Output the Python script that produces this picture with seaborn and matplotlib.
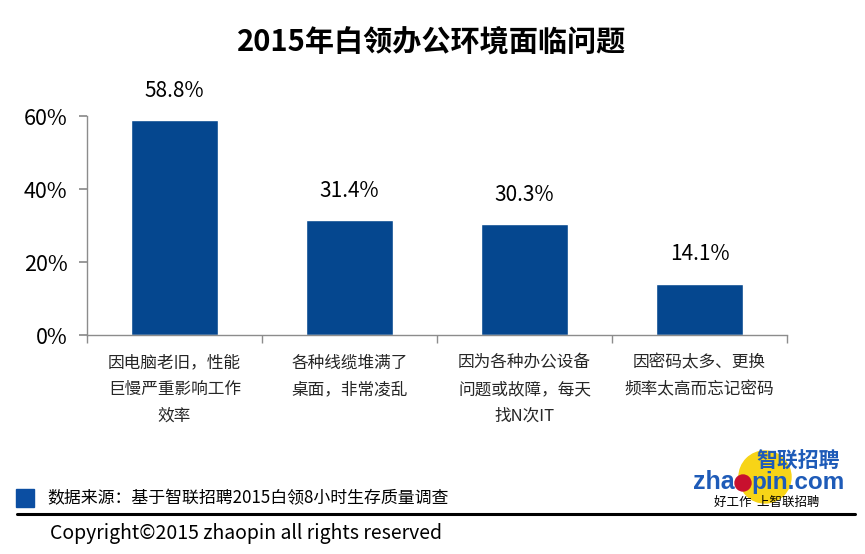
import matplotlib
matplotlib.use("Agg")
import matplotlib.pyplot as plt
import seaborn as sns
import pandas as pd
from matplotlib.patches import Rectangle, Ellipse
from matplotlib.ticker import FixedLocator

categories = [
    "因电脑老旧，性能\n巨慢严重影响工作\n效率",
    "各种线缆堆满了\n桌面，非常凌乱",
    "因为各种办公设备\n问题或故障，每天\n找N次IT",
    "因密码太多、更换\n频率太高而忘记密码",
]
values = [58.8, 31.4, 30.3, 14.1]
y_ticks = [0, 20, 40, 60]
title = "2015年白领办公环境面临问题"
source_text = "数据来源：基于智联招聘2015白领8小时生存质量调查"
copyright_text = "Copyright©2015 zhaopin all rights reserved"

sns.set_theme(style="white")
plt.rcParams["font.family"] = ["Noto Sans CJK SC", "DejaVu Sans"]

BLUE = "#05478F"
GRAY = "#8C8C8C"
LOGO_BLUE = "#1E5BB8"

df = pd.DataFrame({"cat": categories, "val": values})

fig = plt.figure(figsize=(8.65, 5.54), dpi=100)
W, H = 865, 554


def fx(x):
    return x / W


def fy(y):
    return 1 - y / H


ax = fig.add_axes([fx(87), fy(335), 700 / W, (335 - 116) / H])

sns.barplot(data=df, x="cat", y="val", color=BLUE, width=0.5, saturation=1, ax=ax)

ax.set_xlim(-0.5, len(categories) - 0.5)
ax.set_ylim(0, 60)
ax.set_yticks(y_ticks)
ax.set_yticklabels([f"{t}%" for t in y_ticks], fontsize=15.5, color="black")
ax.set_xlabel("")
ax.set_ylabel("")
ax.tick_params(axis="x", which="major", length=0, pad=14)
ax.xaxis.set_minor_locator(FixedLocator([i - 0.5 for i in range(len(categories) + 1)]))
ax.tick_params(axis="x", which="minor", length=6, color=GRAY, direction="out", bottom=True)
ax.tick_params(axis="y", which="major", length=6, color=GRAY, direction="out", left=True, pad=8)
for lbl in ax.get_xticklabels():
    lbl.set_fontsize(12)
    lbl.set_linespacing(1.75)
    lbl.set_verticalalignment("top")

for s in ["top", "right"]:
    ax.spines[s].set_visible(False)
for s in ["left", "bottom"]:
    ax.spines[s].set_color(GRAY)
    ax.spines[s].set_linewidth(1.0)

ax.bar_label(ax.containers[0], labels=[f"{v:.1f}%" for v in values],
             padding=13, fontsize=15, color="black")

fig.text(fx(432), fy(41), title, ha="center", va="center",
         fontsize=21, fontweight="bold", color="black")

# source legend
fig.patches.append(Rectangle((fx(16), fy(507)), 18 / W, 18 / H,
                             transform=fig.transFigure, color="#0B4EA2", zorder=3))
fig.text(fx(47), fy(498), source_text, ha="left", va="center",
         fontsize=12.2, color="black")
fig.add_artist(plt.Line2D([fx(17), fx(855)], [fy(514), fy(514)],
                          transform=fig.transFigure, color="black", linewidth=2.2))
fig.text(fx(50), fy(534), copyright_text, ha="left", va="center",
         fontsize=14, color="black")

# logo approximation
fig.patches.append(Ellipse((fx(765), fy(477)), 52 / W, 52 / H,
                           transform=fig.transFigure, color="#F7D417", zorder=2))
fig.text(fx(798), fy(461), "智联招聘", ha="center", va="center",
         fontsize=15, fontweight="bold", color=LOGO_BLUE, zorder=4)
fig.text(fx(735), fy(482), "zha", ha="right", va="center",
         fontsize=18, fontweight="bold", color=LOGO_BLUE, zorder=4,
         family=["Liberation Sans"])
fig.text(fx(751), fy(482), "pin.com", ha="left", va="center",
         fontsize=17.5, fontweight="bold", color=LOGO_BLUE, zorder=4,
         family=["Liberation Sans"])
fig.patches.append(Ellipse((fx(743), fy(483)), 16 / W, 16 / H,
                           transform=fig.transFigure, color="#C8102E", zorder=5))
fig.text(fx(767), fy(502), "好工作  上智联招聘", ha="center", va="center",
         fontsize=9, color="black", style="italic", zorder=4)

fig.savefig("out.png", dpi=100)
